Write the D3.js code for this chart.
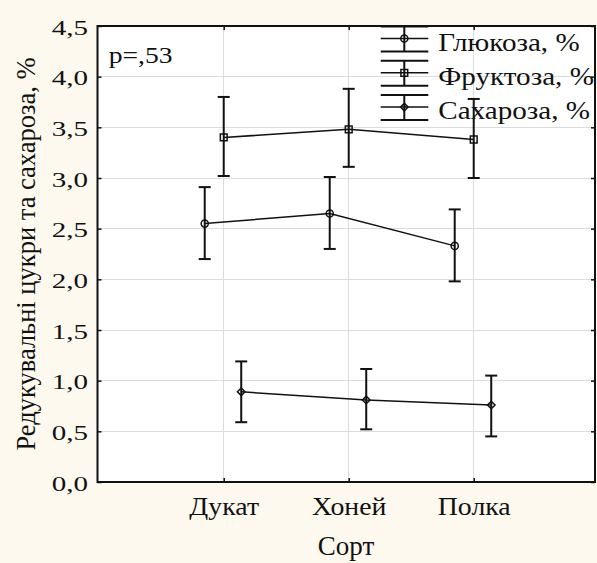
<!DOCTYPE html>
<html lang="uk">
<head>
    <meta charset="UTF-8">
    <title>Редукувальні цукри та сахароза за сортами</title>
    <script src="https://d3js.org/d3.v7.min.js"></script>
    <style>
        body { margin: 0; background: #fdf9ef; }
        text { font-family: "Liberation Serif", "Times New Roman", serif; fill: #111; }
        .grid line { stroke: #dcdcdc; stroke-width: 1; shape-rendering: crispEdges; }
        .tick line { stroke: #111; stroke-width: 1.5; }
        .whisker { stroke: #111; stroke-width: 2; fill: none; }
        .series-line { stroke: #111; stroke-width: 1.5; fill: none; }
        .marker { stroke: #111; stroke-width: 1.5; fill: none; }
    </style>
</head>
<body>
<svg id="chart" width="597" height="563"></svg>
<script>
    // data
    const categories = ["Дукат", "Хоней", "Полка"];
    const yTicks = [0, 0.5, 1, 1.5, 2, 2.5, 3, 3.5, 4, 4.5];

    const glucoseMean = [2.55, 2.65, 2.33];
    const glucoseLow  = [2.20, 2.30, 1.98];
    const glucoseHigh = [2.91, 3.01, 2.69];

    const fructoseMean = [3.40, 3.48, 3.38];
    const fructoseLow  = [3.02, 3.11, 3.00];
    const fructoseHigh = [3.80, 3.88, 3.78];

    const sucroseMean = [0.89, 0.81, 0.76];
    const sucroseLow  = [0.59, 0.52, 0.45];
    const sucroseHigh = [1.19, 1.115, 1.05];

    const seriesNames = ["Глюкоза, %", "Фруктоза, %", "Сахароза, %"];
    const pLabel = "p=,53";
    const xTitle = "Сорт";
    const yTitle = "Редукувальні цукри та сахароза, %";

    const series = [
        { name: seriesNames[0], mean: glucoseMean, low: glucoseLow, high: glucoseHigh, shape: "circle" },
        { name: seriesNames[1], mean: fructoseMean, low: fructoseLow, high: fructoseHigh, shape: "square" },
        { name: seriesNames[2], mean: sucroseMean, low: sucroseLow, high: sucroseHigh, shape: "diamond" }
    ];
    const dodge = [-19, 0, 17.5];   // horizontal offset of each series around the category

    const margin = { top: 26, right: 2, bottom: 81, left: 97.5 };
    const width = 597 - margin.left - margin.right;
    const height = 563 - margin.top - margin.bottom;

    const root = d3.select("#chart");
    root.append("rect").attr("width", 597).attr("height", 563).attr("fill", "#fdf9ef");

    const svg = root.append("g")
        .attr("transform", `translate(${margin.left},${margin.top})`);

    const x = d3.scalePoint().domain(categories).range([0, width]).padding(0.99).align(0.51);
    const y = d3.scaleLinear().domain([0, 4.5]).range([height, 0]);
    const fmt = v => d3.format(".1f")(v).replace(".", ",");

    svg.append("rect").attr("width", width).attr("height", height).attr("fill", "#fff");

    // grid
    const grid = svg.append("g").attr("class", "grid");
    grid.selectAll(".gy").data(yTicks.slice(1, -1)).enter().append("line")
        .attr("x1", 0).attr("x2", width)
        .attr("y1", d => y(d)).attr("y2", d => y(d));
    grid.selectAll(".gx").data(categories).enter().append("line")
        .attr("x1", d => x(d)).attr("x2", d => x(d))
        .attr("y1", 0).attr("y2", height);

    // symbols
    function symbolPath(shape) {
        if (shape === "circle") return d3.symbol(d3.symbolCircle, 40)();
        if (shape === "square") return d3.symbol(d3.symbolSquare, 46)();
        return "M0,-3.8L3.8,0L0,3.8L-3.8,0Z";
    }

    // legend (drawn under the data, no box)
    const legend = svg.append("g").attr("transform", `translate(${380.7 - margin.left},0)`);
    series.forEach((s, i) => {
        const cy = 38.5 - margin.top + i * 34.3;
        const item = legend.append("g").attr("transform", `translate(0,${cy})`);
        item.append("line").attr("class", "whisker").attr("x1", 0).attr("x2", 47.6).attr("y1", -12).attr("y2", -12);
        item.append("line").attr("class", "whisker").attr("x1", 0).attr("x2", 47.6).attr("y1", 13).attr("y2", 13);
        item.append("line").attr("class", "series-line").attr("x1", 0).attr("x2", 47.6).attr("y1", 0).attr("y2", 0);
        item.append("line").attr("class", "whisker").attr("x1", 23.6).attr("x2", 23.6).attr("y1", -12).attr("y2", 13);
        item.append("path").attr("class", "marker").attr("transform", "translate(23.6,0)").attr("d", symbolPath(s.shape));
        item.append("text")
            .attr("transform", `translate(57.6,12) scale(1.12,1)`)
            .attr("font-size", 26)
            .text(s.name);
    });

    // series
    series.forEach((s, i) => {
        const pts = categories.map((c, k) => ({ c, k, px: x(c) + dodge[i] }));
        const g = svg.append("g");

        g.append("path").attr("class", "series-line")
            .attr("d", d3.line().x(d => d.px).y(d => y(s.mean[d.k]))(pts));

        const bars = g.selectAll(".eb").data(pts).enter().append("g");
        bars.append("line").attr("class", "whisker")
            .attr("x1", d => d.px).attr("x2", d => d.px)
            .attr("y1", d => y(s.low[d.k])).attr("y2", d => y(s.high[d.k]));
        bars.append("line").attr("class", "whisker")
            .attr("x1", d => d.px - 6).attr("x2", d => d.px + 6)
            .attr("y1", d => y(s.high[d.k])).attr("y2", d => y(s.high[d.k]));
        bars.append("line").attr("class", "whisker")
            .attr("x1", d => d.px - 6).attr("x2", d => d.px + 6)
            .attr("y1", d => y(s.low[d.k])).attr("y2", d => y(s.low[d.k]));
        bars.append("path").attr("class", "marker")
            .attr("transform", d => `translate(${d.px},${y(s.mean[d.k])})`)
            .attr("d", symbolPath(s.shape));
    });

    // axes: ticks point inward on all four sides
    const left = svg.append("g")
        .call(d3.axisLeft(y).tickValues(yTicks).tickSizeInner(-4).tickSizeOuter(0).tickFormat(fmt));
    left.selectAll("text")
        .attr("x", null).attr("dy", null)
        .attr("font-size", 22)
        .attr("transform", "translate(-9.5,8) scale(1.32,1)");

    svg.append("g").attr("transform", `translate(${width},0)`)
        .call(d3.axisRight(y).tickValues(yTicks).tickSizeInner(-4).tickSizeOuter(0).tickFormat(""));

    svg.append("g")
        .call(d3.axisTop(x).tickSizeInner(-4).tickSizeOuter(0).tickFormat(""));

    const bottom = svg.append("g").attr("transform", `translate(0,${height})`)
        .call(d3.axisBottom(x).tickSizeInner(-4).tickSizeOuter(0));
    bottom.selectAll("text")
        .attr("y", null).attr("dy", null)
        .attr("font-size", 26)
        .attr("transform", "translate(0,33) scale(1.07,1)");

    svg.selectAll(".domain").remove();
    svg.selectAll("g").attr("font-family", null);

    svg.append("rect")
        .attr("width", width).attr("height", height)
        .attr("fill", "none").attr("stroke", "#111").attr("stroke-width", 2);

    // labels
    svg.append("text")
        .attr("transform", `translate(${108.7 - margin.left},${63.3 - margin.top}) scale(1.2,1)`)
        .attr("font-size", 23)
        .text(pLabel);

    root.append("text")
        .attr("transform", "translate(346,555)")
        .attr("text-anchor", "middle")
        .attr("font-size", 27)
        .text(xTitle);

    root.append("text")
        .attr("transform", `translate(35,${margin.top + height / 2}) rotate(-90)`)
        .attr("text-anchor", "middle")
        .attr("font-size", 26.5)
        .text(yTitle);
</script>
</body>
</html>
